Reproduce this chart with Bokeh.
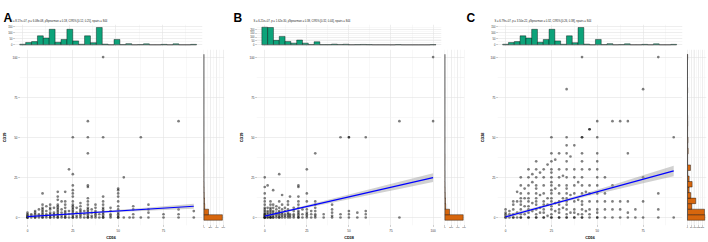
import numpy as np
from bokeh.plotting import figure
from bokeh.layouts import row, column
from bokeh.models import Range1d, FixedTicker, Grid
from bokeh.core.properties import value
from bokeh.embed import file_html
from bokeh.resources import INLINE

FONT = "Liberation Sans"

# ---------------- data ----------------
panel_letters = ["A", "B", "C"]
x_titles = ["CD56", "CD38", "CD56"]
y_titles = ["CD19", "CD19", "CD38"]
subtitles = [
    "S = 8.17e+07, p = 6.08e-08, \u03c1\u0302Spearman = 0.18, CI95% [0.12, 0.25], npairs = 844",
    "S = 6.21e+07, p = 1.62e-30, \u03c1\u0302Spearman = 0.38, CI95% [0.32, 0.44], npairs = 844",
    "S = 6.79e+07, p = 3.50e-22, \u03c1\u0302Spearman = 0.32, CI95% [0.26, 0.38], npairs = 844",
]

# marginal histogram counts (30 bins each, first bin centred on 0)
cd56_counts = [5, 20, 27, 75, 57, 130, 22, 45, 130, 33, 5, 75, 18, 145, 6,
               1, 45, 2, 10, 1, 2, 8, 1, 1, 4, 1, 8, 1, 1, 4]
cd19_counts = [575, 150, 30, 22, 14, 10, 8, 4, 6, 2, 3, 4, 1, 1, 3,
               0, 1, 2, 1, 0, 0, 1, 0, 1, 0, 0, 0, 0, 0, 1]
cd38_counts = [230, 226, 58, 110, 44, 22, 62, 22, 5, 40, 3, 3, 10, 5, 8,
               2, 3, 5, 3, 1, 1, 1, 0, 3, 0, 0, 0, 0, 0, 3]
cd56_max = 91.7
cd19_max = 100.0
cd38_max = 100.0

# panel A scatter: CD56 (x) vs CD19 (y), grouped by x value
a_col_x = [0, 2.1, 4.2, 6.3, 8.3, 10.4, 12.5, 14.6, 16.7, 18.8, 20.8, 22.9, 25, 27.1,
           29.2, 31.3, 33.3, 35.4, 37.5, 39.6, 41.7, 45.8, 50, 53.1, 56.3, 58.3,
           62.5, 66.7, 75, 83.3, 91.7]
a_col_y = [
    [0, 0, 0, 1, 1, 2, 3],
    [0, 1, 2],
    [0, 0, 1, 2, 3, 4],
    [0, 1, 2, 5],
    [0, 0, 1, 2, 3, 4, 5, 6, 8, 15],
    [0, 1, 2, 4, 7],
    [0, 0, 1, 2, 3, 5, 6, 8],
    [0, 1, 2, 3, 6],
    [0, 0, 1, 2, 3, 4, 5, 6, 7, 8, 11, 13, 16],
    [0, 1, 3, 5, 10],
    [0, 0, 1, 2, 3, 4, 6, 8, 10, 16],
    [0, 2, 4, 30],
    [0, 0, 1, 2, 3, 4, 5, 6, 7, 8, 10, 13, 15, 17, 20, 27, 50],
    [0, 1, 3, 6],
    [0, 1, 2, 3, 4, 5, 7, 9],
    [0, 2, 4],
    [0, 0, 1, 2, 3, 4, 5, 6, 8, 10, 12, 19, 20, 40, 50, 60],
    [0, 1, 3, 5],
    [0, 1, 2, 3, 4, 6, 8],
    [0, 2],
    [0, 0, 1, 2, 3, 4, 5, 6, 8, 10, 13, 50, 100],
    [0, 1, 2, 4, 6],
    [0, 0, 1, 2, 3, 5, 7, 10, 13, 15, 17, 18],
    [0, 25],
    [0],
    [0, 2, 5, 7],
    [0, 50],
    [0, 3, 5, 8],
    [0, 2],
    [0, 2, 5, 60],
    [0, 4],
]

# panel B scatter: CD38 (x) vs CD19 (y)
b_col_x = [0, 1.7, 3.4, 5, 6.9, 8.6, 10.3, 12, 13.8, 15, 17.2, 20, 22.4, 25, 27.6,
           30, 35, 40, 45, 50, 55, 60, 80, 100]
b_col_y = [
    [0, 0, 0, 0, 1, 1, 2, 2, 3, 4, 5, 6, 8, 10, 12, 15, 19, 25],
    [0, 0, 1, 2, 3, 4, 6, 20],
    [0, 0, 0, 1, 2, 3, 4, 5, 6, 8, 10],
    [0, 0, 1, 2, 3, 4, 6, 8, 17],
    [0, 1, 2, 3, 5, 7],
    [0, 0, 1, 2, 3, 4, 6, 10, 27],
    [0, 1, 2, 3, 5, 8, 14],
    [0, 1, 2, 4, 6],
    [0, 1, 2, 3, 5, 8, 10],
    [0, 1, 2, 13],
    [0, 1, 2, 4, 6],
    [0, 0, 1, 2, 3, 4, 6, 8, 10, 13, 19, 20],
    [0, 2, 5],
    [0, 1, 2, 3, 5, 10, 15, 30],
    [0, 2, 4],
    [0, 1, 2, 4, 6, 8, 10, 40],
    [0, 2],
    [0, 1, 3, 5, 8],
    [0, 2, 50],
    [0, 2, 4, 50, 50],
    [0, 3],
    [0, 2, 4, 50],
    [0, 60],
    [60, 100],
]

# panel C scatter: CD56 (x) vs CD38 (y)
c_col_x = [0, 2.1, 4.2, 6.3, 8.3, 10.4, 12.5, 14.6, 16.7, 18.8, 20.8, 22.9, 25, 27.1,
           29.2, 31.3, 33.3, 35.4, 37.5, 39.6, 41.7, 43.8, 45.8, 50, 54.2, 58.3, 62.5,
           66.7, 70.8, 75, 83.3, 91.7]
c_col_y = [
    [0, 0, 1, 2, 3, 5],
    [0, 2, 4],
    [0, 0, 2, 5, 8, 10],
    [0, 3, 10, 16],
    [0, 0, 2, 5, 8, 10, 12, 15, 20, 25],
    [2, 7, 12, 18],
    [0, 0, 3, 5, 7, 10, 12, 15, 20, 25, 30],
    [4, 9, 22, 27],
    [0, 0, 2, 5, 8, 10, 12, 15, 18, 20, 25, 30, 35],
    [3, 6, 14, 28],
    [0, 0, 3, 5, 8, 10, 15, 20, 25, 30],
    [1, 8, 12, 33],
    [0, 0, 2, 5, 7, 10, 12, 15, 17, 20, 22, 25, 28, 30, 35, 40, 50],
    [4, 9, 18, 36],
    [0, 0, 3, 5, 8, 10, 15, 20, 25, 30, 40],
    [6, 12, 26],
    [0, 0, 2, 5, 8, 10, 12, 15, 18, 20, 25, 30, 35, 40, 45, 50, 80],
    [3, 14, 38],
    [0, 0, 3, 5, 10, 15, 20, 25, 30, 45],
    [2, 11, 22],
    [0, 0, 2, 5, 8, 10, 15, 20, 25, 30, 35, 40, 50, 50, 100],
    [4, 16],
    [0, 2, 5, 10, 15, 20, 30, 55, 55],
    [0, 0, 3, 5, 10, 15, 20, 25, 30, 35, 40, 50, 60],
    [0, 5, 10, 15, 25],
    [0, 5, 10, 20, 60],
    [0, 5, 10, 60],
    [0, 3, 10, 40, 60],
    [0, 5],
    [0, 10, 25, 80],
    [0, 5, 15, 100],
    [0, 50],
]

# linear fits and confidence-band half widths
a_fit_x = [0, 91.7]
a_fit_y = [0.5, 7.0]
a_band_x = [0, 10, 20, 30, 45, 60, 75, 91.7]
a_band_hw = [0.7, 0.5, 0.4, 0.4, 0.6, 0.9, 1.2, 1.6]

b_fit_x = [0, 100]
b_fit_y = [0.8, 24.8]
b_band_x = [0, 10, 20, 40, 60, 80, 100]
b_band_hw = [0.7, 0.6, 0.7, 1.2, 1.7, 2.2, 2.7]

c_fit_x = [0, 91.7]
c_fit_y = [0.4, 29.0]
c_band_x = [0, 10, 20, 30, 45, 60, 75, 91.7]
c_band_hw = [1.3, 1.0, 0.8, 0.8, 1.1, 1.8, 2.5, 3.3]

# ---------------- helpers ----------------
GREEN = "#009E73"
ORANGE = "#D55E00"


def flatten(cols_x, cols_y):
    xs, ys = [], []
    for x, yl in zip(cols_x, cols_y):
        for y in yl:
            xs.append(x)
            ys.append(y)
    return xs, ys


def hist_bins(counts, vmax):
    n = len(counts)
    w = vmax / (n - 1)
    c = np.arange(n) * w
    return c, w


def base_fig(w, h, xr, yr, l, r, t, b, xloc, yloc):
    p = figure(width=w, height=h, x_range=xr, y_range=yr,
               min_border_left=l, min_border_right=r, min_border_top=t, min_border_bottom=b,
               x_axis_location=xloc, y_axis_location=yloc,
               toolbar_location=None, output_backend="svg")
    p.grid.visible = False
    p.outline_line_color = None
    p.background_fill_color = "white"
    p.border_fill_color = "white"
    return p


def style_axis(ax, label_size="3px", title_size="3.8px", standoff=1, title_standoff=1):
    ax.major_label_text_font = FONT
    ax.major_label_text_font_size = label_size
    ax.major_label_text_color = "#333333"
    ax.axis_label_text_font = FONT
    ax.axis_label_text_font_size = title_size
    ax.axis_label_text_font_style = "bold"
    ax.axis_label_text_color = "black"
    ax.axis_line_color = None
    ax.major_tick_line_color = "#444444"
    ax.major_tick_line_width = 0.5
    ax.major_tick_out = 1
    ax.major_tick_in = 0
    ax.minor_tick_line_color = None
    ax.major_label_standoff = standoff
    ax.axis_label_standoff = title_standoff


def add_grids(p, dim, major, minor):
    p.add_layout(Grid(dimension=dim, ticker=FixedTicker(ticks=minor),
                      grid_line_color="#f1f1f1", grid_line_width=0.5))
    p.add_layout(Grid(dimension=dim, ticker=FixedTicker(ticks=major),
                      grid_line_color="#e2e2e2", grid_line_width=0.6))


def minors(major):
    step = major[1] - major[0]
    return [m + step / 2 for m in major]


panels = [
    dict(cols=(a_col_x, a_col_y), fit=(a_fit_x, a_fit_y), band=(a_band_x, a_band_hw),
         xcounts=cd56_counts, xmax=cd56_max, ycounts=cd19_counts, ymax=cd19_max,
         xr=(-4.4, 96.5), xticks=[0, 25, 50, 75], topr=(-14, 170), topticks=[0, 50, 100, 150],
         rightr=(-8, 640), rightticks=[0, 200, 400, 600],
         L=14, FW=188, R=1, RL=0, RFW=21, RR=8),
    dict(cols=(b_col_x, b_col_y), fit=(b_fit_x, b_fit_y), band=(b_band_x, b_band_hw),
         xcounts=cd38_counts, xmax=cd38_max, ycounts=cd19_counts, ymax=cd19_max,
         xr=(-4.9, 105.0), xticks=[0, 25, 50, 75, 100], topr=(-22, 265), topticks=[0, 50, 100, 150, 200],
         rightr=(-8, 615), rightticks=[0, 200, 400, 600],
         L=24, FW=185, R=1, RL=2, RFW=20, RR=6),
    dict(cols=(c_col_x, c_col_y), fit=(c_fit_x, c_fit_y), band=(c_band_x, c_band_hw),
         xcounts=cd56_counts, xmax=cd56_max, ycounts=cd38_counts, ymax=cd38_max,
         xr=(-4.4, 96.5), xticks=[0, 25, 50, 75], topr=(-14, 170), topticks=[0, 50, 100, 150],
         rightr=(-13, 253), rightticks=[0, 50, 100, 150, 200],
         L=27, FW=185, R=1, RL=3, RFW=20, RR=2),
]
yticks = [0, 25, 50, 75, 100]
YR = (-5.0, 104.7)

blocks = []
for i, spec in enumerate(panels):
    L, FW, R = spec["L"], spec["FW"], spec["R"]
    RL, RFW, RR = spec["RL"], spec["RFW"], spec["RR"]
    block_w = L + FW + R + RL + RFW + RR
    xmin, xmax_r = spec["xr"]

    # ---- top histogram ----
    top = base_fig(block_w, 25, Range1d(xmin, xmax_r), Range1d(*spec["topr"]),
                   L, block_w - L - FW, 1, 2, None, "left")
    add_grids(top, 0, spec["xticks"], minors(spec["xticks"]))
    add_grids(top, 1, spec["topticks"], minors(spec["topticks"]))
    c, w = hist_bins(spec["xcounts"], spec["xmax"])
    top.quad(left=c - w / 2, right=c + w / 2, bottom=0, top=spec["xcounts"],
             fill_color=GREEN, fill_alpha=0.95, line_color="black", line_width=0.4)
    top.line(x=[c[0] - w / 2, c[-1] + w / 2], y=[0, 0], line_color="#777777", line_width=0.5)
    top.yaxis.ticker = FixedTicker(ticks=spec["topticks"])
    style_axis(top.yaxis[0], label_size="2.6px")

    # ---- main scatter ----
    main = base_fig(L + FW + R, 194, Range1d(xmin, xmax_r), Range1d(*YR),
                    L, R, 1, 12, "below", "left")
    add_grids(main, 0, spec["xticks"], minors(spec["xticks"]))
    add_grids(main, 1, yticks, minors(yticks))
    sx, sy = flatten(*spec["cols"])
    main.scatter(sx, sy, size=2.7, fill_color="black", fill_alpha=0.5, line_color=None)
    fx, fy = spec["fit"]
    bx, bhw = spec["band"]
    bx = np.array(bx, dtype=float)
    centre = np.interp(bx, fx, fy)
    main.varea(x=bx, y1=centre - np.array(bhw), y2=centre + np.array(bhw),
               fill_color="#999999", fill_alpha=0.45)
    main.line(fx, fy, line_color="blue", line_width=1.2)
    main.xaxis.ticker = FixedTicker(ticks=spec["xticks"])
    main.yaxis.ticker = FixedTicker(ticks=yticks)
    main.xaxis.axis_label = x_titles[i]
    main.yaxis.axis_label = y_titles[i]
    style_axis(main.xaxis[0], standoff=2, title_standoff=1)
    style_axis(main.yaxis[0], standoff=1, title_standoff=2)

    # ---- right histogram ----
    right = base_fig(RL + RFW + RR, 194, Range1d(*spec["rightr"]), Range1d(*YR),
                     RL, RR, 1, 12, "below", None)
    add_grids(right, 0, spec["rightticks"], minors(spec["rightticks"]))
    add_grids(right, 1, yticks, minors(yticks))
    c2, w2 = hist_bins(spec["ycounts"], spec["ymax"])
    right.quad(left=0, right=spec["ycounts"], bottom=c2 - w2 / 2, top=c2 + w2 / 2,
               fill_color=ORANGE, fill_alpha=0.95, line_color="black", line_width=0.4)
    right.line(x=[0, 0], y=[c2[0] - w2 / 2, c2[-1] + w2 / 2], line_color="#555555", line_width=0.7)
    right.xaxis.ticker = FixedTicker(ticks=spec["rightticks"])
    style_axis(right.xaxis[0], label_size="2.2px", standoff=0)

    blocks.append(column(top, row(main, right)))

# ---- header with panel letters and subtitles ----
header = figure(width=708, height=23, x_range=Range1d(0, 708), y_range=Range1d(23, 0),
                x_axis_location=None, y_axis_location=None, min_border=0,
                toolbar_location=None, output_backend="svg")
header.grid.visible = False
header.outline_line_color = None
header.text(x=[3, 233, 466], y=[17, 17, 17], text=panel_letters,
            text_font=value(FONT), text_font_size="12px", text_font_style="bold",
            text_baseline="alphabetic", text_align="left", text_color="black")
header.text(x=[10, 253, 494], y=[21, 21, 21], text=subtitles,
            text_font=value(FONT), text_font_size="2.7px",
            text_baseline="middle", text_align="left", text_color="#222222")

layout = column(header, row(*blocks))

open("out.html", "w").write(file_html(layout, INLINE))
